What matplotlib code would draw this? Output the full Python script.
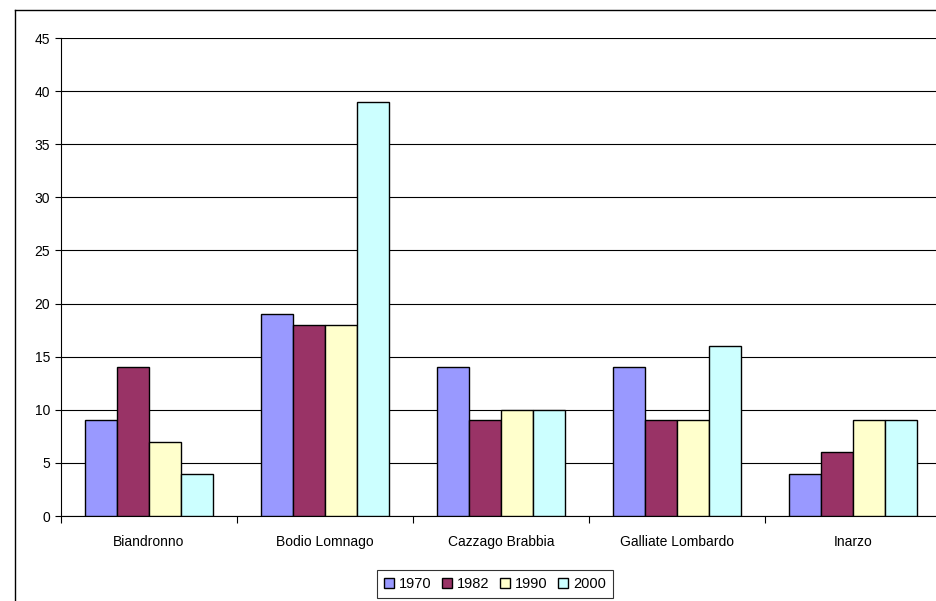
import numpy as np
import matplotlib
matplotlib.use("Agg")
import matplotlib.pyplot as plt
from matplotlib.lines import Line2D

plt.rcParams['font.family'] = ['Liberation Sans', 'DejaVu Sans']

# data
comuni = ['Biandronno', 'Bodio Lomnago', 'Cazzago Brabbia', 'Galliate Lombardo', 'Inarzo']
anni = ['1970', '1982', '1990', '2000']
v1970 = [9, 19, 14, 14, 4]
v1982 = [14, 18, 9, 9, 6]
v1990 = [7, 18, 10, 9, 9]
v2000 = [4, 39, 10, 16, 9]
colori = ['#9999FF', '#993366', '#FFFFCC', '#CCFFFF']

W, H = 937, 601
fig = plt.figure(figsize=(W / 100, H / 100), dpi=100)
ax = fig.add_axes([61 / W, 1 - 516 / H, 880 / W, (516 - 38) / H])

serie = [v1970, v1982, v1990, v2000]
x = np.arange(len(comuni))
bw = 0.182
for i, (vals, c, lab) in enumerate(zip(serie, colori, anni)):
    ax.bar(x + (i - 1.5) * bw, vals, width=bw, color=c, edgecolor='black',
           linewidth=1.0, label=lab, zorder=3)

ax.set_xlim(-0.5, len(comuni) - 0.5)
ax.set_ylim(0, 45)
ax.set_yticks(range(0, 46, 5))
ax.yaxis.grid(True, color='black', linewidth=0.8, zorder=0)
ax.set_axisbelow(True)

ax.set_xticks(x)
ax.set_xticklabels(comuni, fontsize=10)
ax.set_xticks(np.arange(-0.5, len(comuni) + 0.5, 1), minor=True)
ax.tick_params(axis='x', which='major', length=0, pad=14)
ax.tick_params(axis='x', which='minor', length=5, width=0.8, direction='out')
ax.tick_params(axis='y', length=4, width=0.8, direction='out', labelsize=10, pad=4)

for s in ['top', 'right']:
    ax.spines[s].set_visible(False)
ax.spines['left'].set_linewidth(0.8)
ax.spines['bottom'].set_linewidth(0.8)

leg = fig.legend(loc='center', bbox_to_anchor=(495 / W, 1 - 584 / H), ncol=4,
                 fontsize=10.5, frameon=True, fancybox=False, edgecolor='black',
                 handlelength=0.7, handleheight=0.7, handletextpad=0.35,
                 columnspacing=0.7, borderpad=0.45, borderaxespad=0)
leg.get_frame().set_linewidth(0.8)

# outer chart border (only left and top visible)
fig.add_artist(Line2D([15 / W, 15 / W], [1 - 10 / H, 0], color='black', linewidth=1.0,
                      transform=fig.transFigure))
fig.add_artist(Line2D([15 / W, 1], [1 - 10 / H, 1 - 10 / H], color='black', linewidth=1.0,
                      transform=fig.transFigure))

fig.savefig('out.png', dpi=100, facecolor='white')
